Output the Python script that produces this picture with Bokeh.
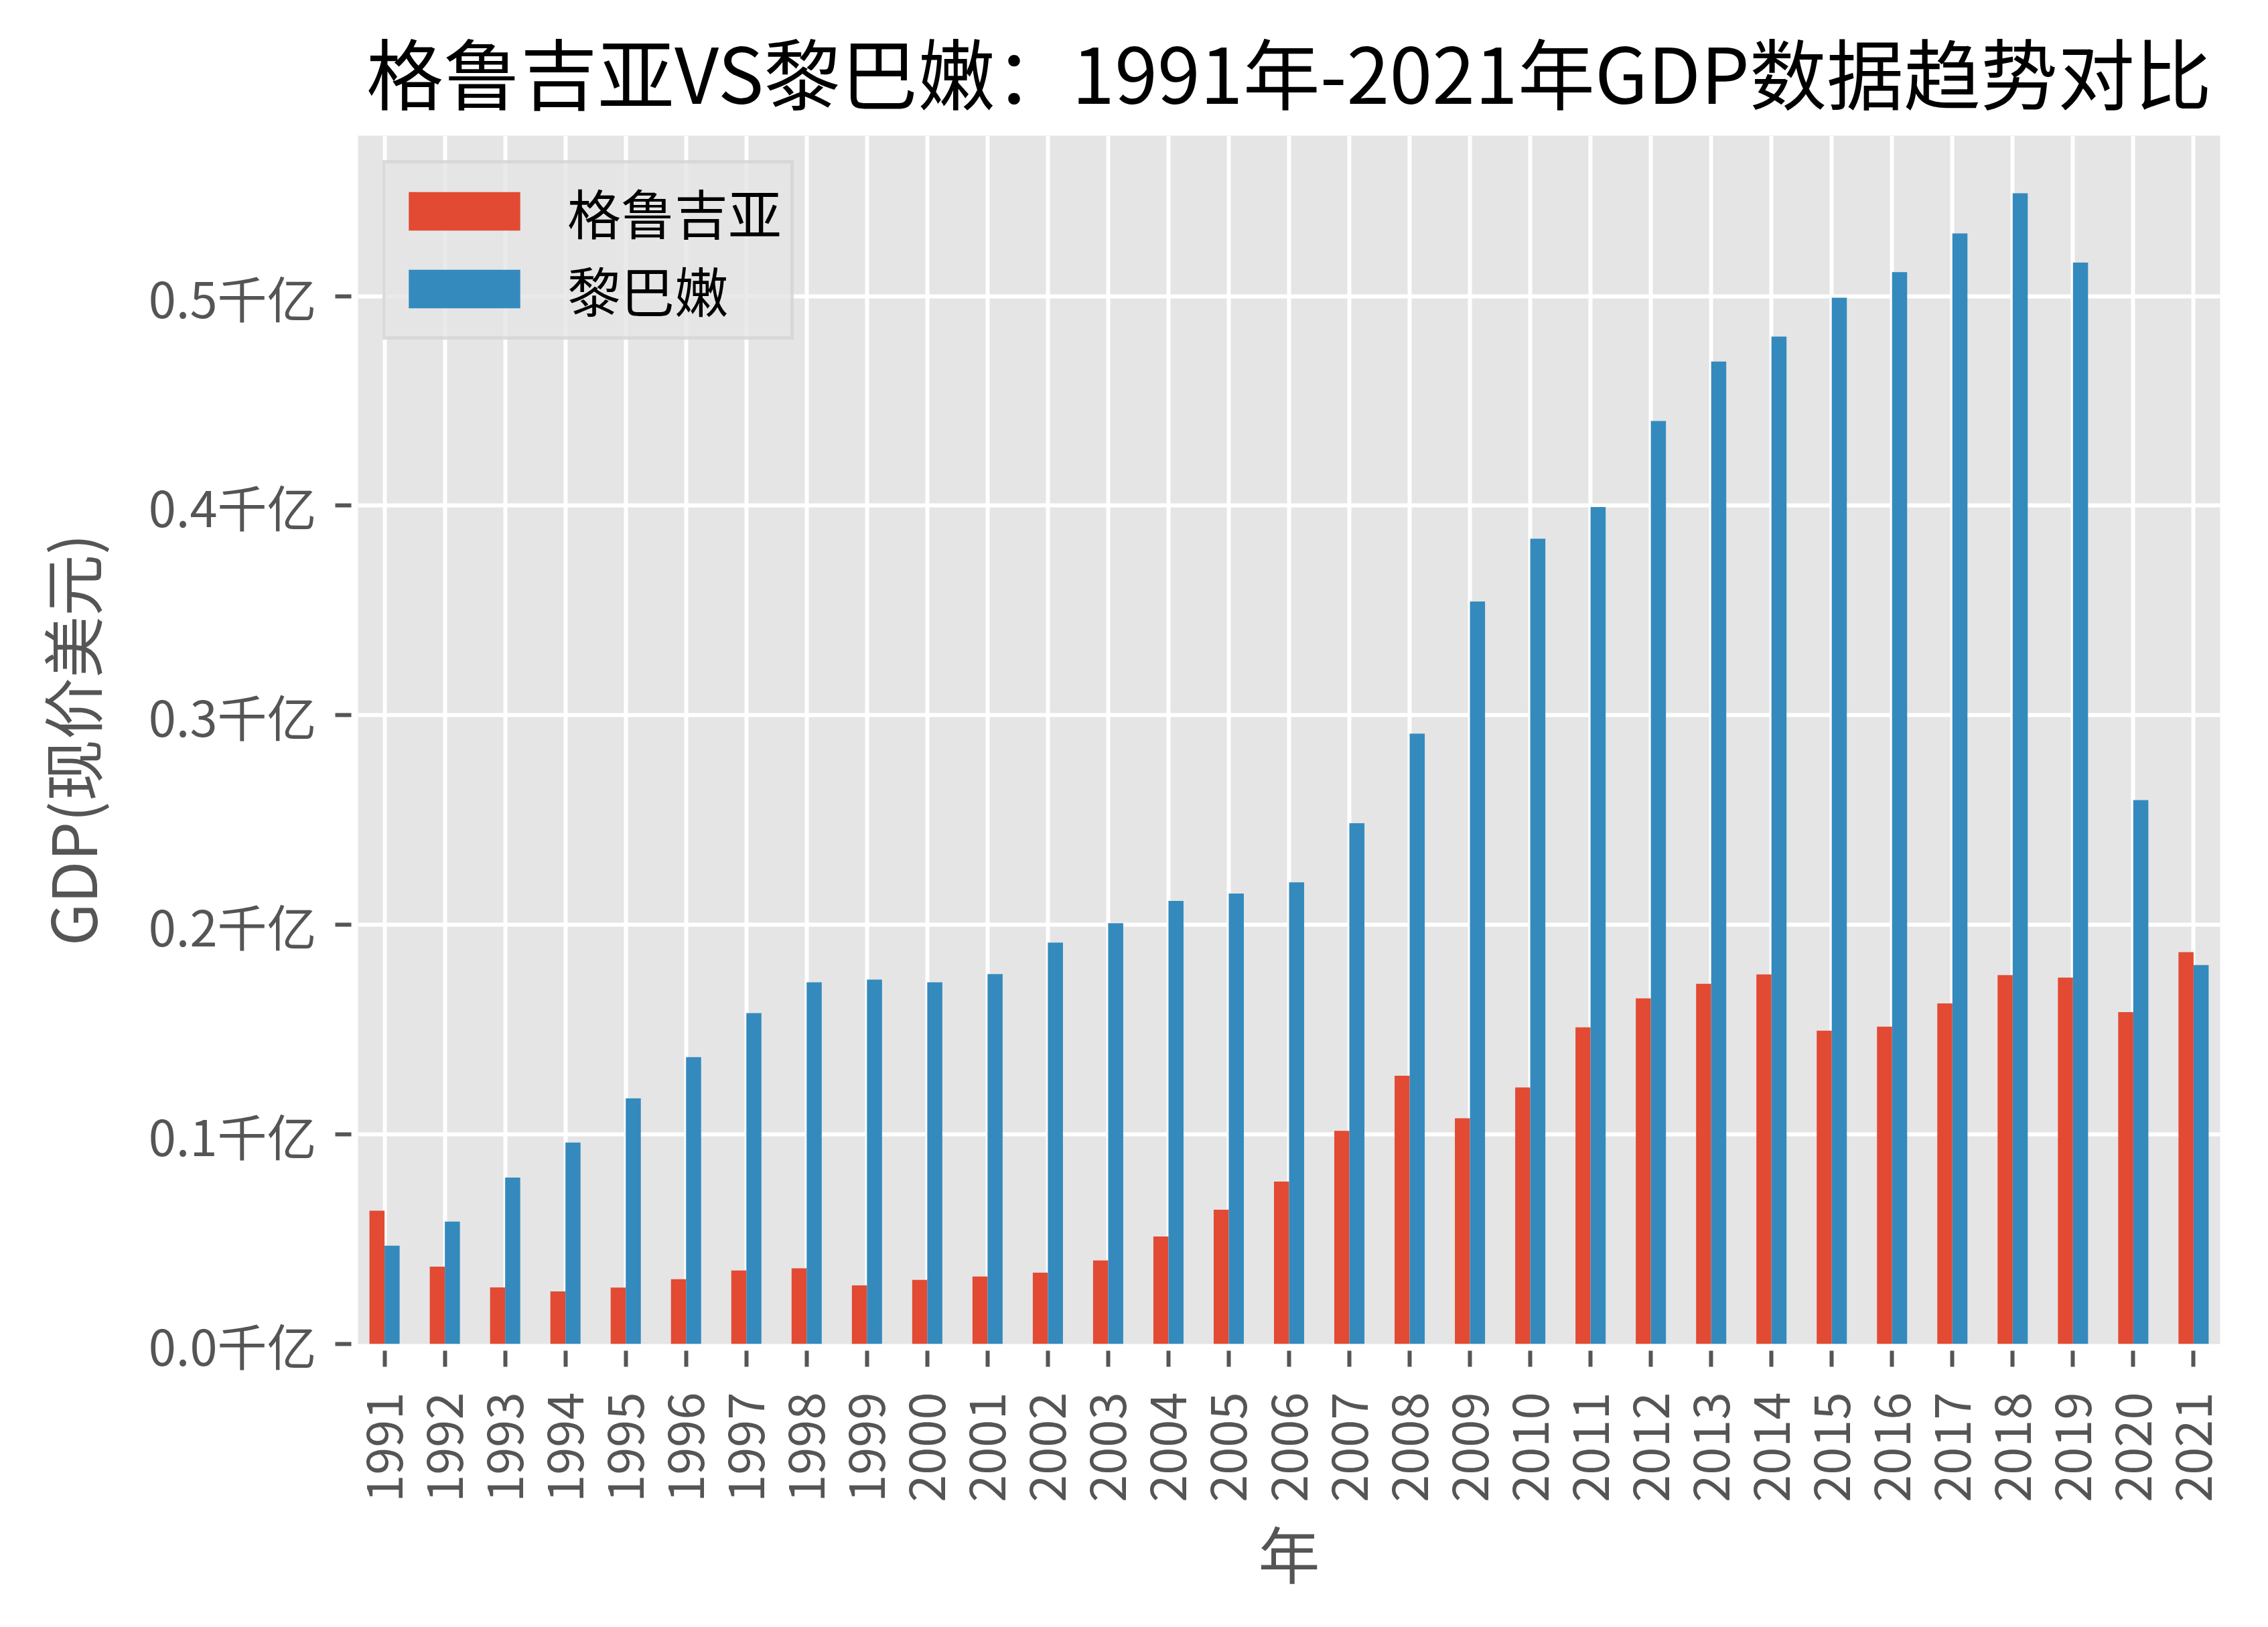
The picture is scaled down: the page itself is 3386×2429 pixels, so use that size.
import numpy as np
from bokeh.plotting import figure
from bokeh.models import ColumnDataSource, Range1d, FixedTicker, Legend, LegendItem
from bokeh.transform import dodge
from bokeh.embed import file_html
from bokeh.resources import INLINE

# ---- data (GDP, current USD, in units of 千亿 = 100 billion) ----
years = [str(y) for y in range(1991, 2022)]
georgia = [0.0636, 0.0369, 0.0270, 0.0251, 0.0269, 0.0309, 0.0351, 0.0361, 0.0280, 0.0306,
           0.0322, 0.0340, 0.0399, 0.0513, 0.0641, 0.0775, 0.1017, 0.1280, 0.1077, 0.1224,
           0.1511, 0.1649, 0.1719, 0.1763, 0.1495, 0.1514, 0.1625, 0.1760, 0.1748, 0.1584,
           0.1870]
lebanon = [0.0469, 0.0584, 0.0794, 0.0961, 0.1172, 0.1369, 0.1579, 0.1726, 0.1739, 0.1726,
           0.1765, 0.1915, 0.2008, 0.2114, 0.2149, 0.2203, 0.2485, 0.2912, 0.3543, 0.3842,
           0.3993, 0.4404, 0.4688, 0.4807, 0.4992, 0.5114, 0.5299, 0.5491, 0.5160, 0.2595,
           0.1808]
series_names = ["格鲁吉亚", "黎巴嫩"]
colors = ["#E24A33", "#348ABD"]
y_ticks = [0.0, 0.1, 0.2, 0.3, 0.4, 0.5]
y_tick_labels = ["0.0千亿", "0.1千亿", "0.2千亿", "0.3千亿", "0.4千亿", "0.5千亿"]
title_text = "格鲁吉亚VS黎巴嫩：1991年-2021年GDP数据趋势对比"
x_label = "年"
y_label = "GDP(现价美元)"

FONT = "Noto Sans CJK SC"
idx = np.arange(len(years))
src = ColumnDataSource(dict(x=idx, g=georgia, l=lebanon))

ymax = max(max(georgia), max(lebanon)) * 1.05
p = figure(width=3370, height=2410, output_backend="svg", toolbar_location=None,
           x_range=Range1d(-0.44, len(years) - 1 + 0.44), y_range=Range1d(0, ymax),
           min_border_left=534, min_border_right=56, min_border_top=202, min_border_bottom=404)

p.background_fill_color = "#E5E5E5"
p.border_fill_color = "white"
p.outline_line_color = None

bw = 0.25
r1 = p.vbar(x=dodge("x", -bw / 2), top="g", width=bw, source=src,
            fill_color=colors[0], line_color=None)
r2 = p.vbar(x=dodge("x", bw / 2), top="l", width=bw, source=src,
            fill_color=colors[1], line_color=None)

# title
p.title.text = title_text
p.title.align = "center"
p.title.text_font = FONT
p.title.text_font_size = "115px"
p.title.text_font_style = "normal"
p.title.text_color = "black"
p.title.standoff = 30

# axes
for ax in (p.xaxis[0], p.yaxis[0]):
    ax.axis_line_color = None
    ax.major_tick_line_color = "#555555"
    ax.major_tick_line_width = 6
    ax.major_tick_out = 34
    ax.major_tick_in = -10
    ax.minor_tick_line_color = None
    ax.major_label_text_font = FONT
    ax.major_label_text_font_size = "74px"
    ax.major_label_text_color = "#555555"
    ax.axis_label_text_font = FONT
    ax.axis_label_text_font_size = "92px"
    ax.axis_label_text_font_style = "normal"
    ax.axis_label_text_color = "#555555"

p.xaxis.ticker = FixedTicker(ticks=list(idx))
p.xaxis.major_label_overrides = {int(i): y for i, y in zip(idx, years)}
p.xaxis.major_label_orientation = np.pi / 2
p.xaxis.major_label_standoff = 38
p.xaxis.axis_label = x_label
p.xaxis.axis_label_standoff = 4

p.yaxis.ticker = FixedTicker(ticks=y_ticks)
p.yaxis.major_label_overrides = {t: l for t, l in zip(y_ticks, y_tick_labels)}
p.yaxis.major_label_standoff = 28
p.yaxis.axis_label = y_label
p.yaxis.axis_label_standoff = 48

# grid
p.xgrid.ticker = FixedTicker(ticks=list(idx))
for g in (p.xgrid[0], p.ygrid[0]):
    g.grid_line_color = "white"
    g.grid_line_width = 6

# legend
legend = Legend(items=[LegendItem(label=series_names[0], renderers=[r1]),
                       LegendItem(label=series_names[1], renderers=[r2])],
                location="top_left", margin=37, padding=13, spacing=0,
                glyph_width=208, glyph_height=72, label_standoff=50,
                label_text_font=FONT, label_text_font_size="80px", label_height=80,
                label_text_color="black",
                background_fill_color="#E5E5E5", background_fill_alpha=0.8,
                border_line_color="#CCCCCC", border_line_width=5)
p.add_layout(legend)

open("out.html", "w").write(file_html(p, INLINE))
